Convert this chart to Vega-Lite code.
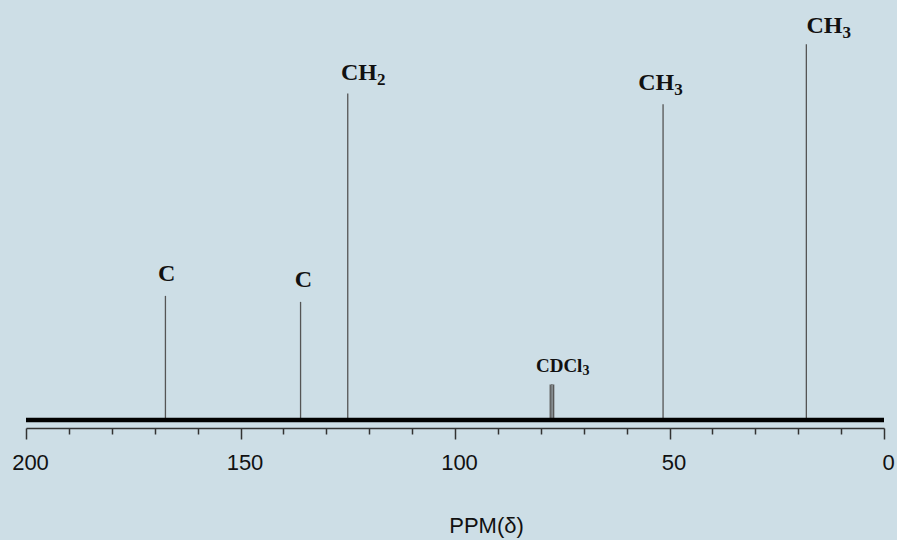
{
  "$schema": "https://vega.github.io/schema/vega-lite/v6.json",
  "width": 858,
  "height": 428,
  "autosize": {"type": "none"},
  "padding": {"left": 26, "top": 0, "right": 13, "bottom": 112},
  "background": "#cddee6",
  "config": {"view": {"stroke": null}},
  "datasets": {
    "peaks": [
      {"ppm": 167.5, "intensity": 33.1},
      {"ppm": 136.0, "intensity": 31.5},
      {"ppm": 125.0, "intensity": 87.1},
      {"ppm": 77.0, "intensity": 9.5},
      {"ppm": 77.4, "intensity": 9.6},
      {"ppm": 77.8, "intensity": 9.5},
      {"ppm": 51.5, "intensity": 84.2},
      {"ppm": 18.1, "intensity": 100.2}
    ],
    "baseline": [{"start": 200, "end": 0, "level": 0}],
    "labels": [
      {"split": 165.2, "base": 37.15, "main": "C", "sub": "", "kind": "peak"},
      {"split": 133.3, "base": 35.5, "main": "C", "sub": "", "kind": "peak"},
      {"split": 118.2, "base": 90.67, "main": "CH", "sub": "2", "kind": "peak"},
      {"split": 70.3, "base": 12.88, "main": "CDCl", "sub": "3", "kind": "solvent"},
      {"split": 48.9, "base": 88, "main": "CH", "sub": "3", "kind": "peak"},
      {"split": 9.7, "base": 103.1, "main": "CH", "sub": "3", "kind": "peak"}
    ]
  },
  "layer": [
    {
      "data": {"name": "peaks"},
      "mark": {"type": "rule", "color": "#555555", "strokeWidth": 1.3},
      "encoding": {
        "x": {
          "field": "ppm", "type": "quantitative",
          "scale": {"domain": [0, 200], "reverse": true, "nice": false},
          "axis": {
            "values": [0, 10, 20, 30, 40, 50, 60, 70, 80, 90, 100, 110, 120, 130, 140, 150, 160, 170, 180, 190, 200],
            "labelExpr": "datum.value % 50 === 0 ? datum.label : ''",
            "tickSize": {"condition": {"test": "datum.value % 50 === 0", "value": 11}, "value": 6},
            "tickColor": "#333333",
            "tickWidth": 1.5,
            "domainColor": "#333333",
            "domainWidth": 1.5,
            "grid": false,
            "labelFont": "Liberation Sans",
            "labelFontSize": 22,
            "labelColor": "#111111",
            "labelPadding": 13,
            "labelOffset": 4,
            "labelFlush": false,
            "labelOverlap": false,
            "title": "PPM(δ)",
            "titleFont": "Liberation Sans",
            "titleFontSize": 22,
            "titleFontWeight": "normal",
            "titleColor": "#111111",
            "titleX": 460,
            "titleY": 104,
            "titleBaseline": "alphabetic"
          }
        },
        "y": {"field": "intensity", "type": "quantitative", "scale": {"domain": [-2.1333, 112], "nice": false, "zero": false}, "axis": null},
        "y2": {"datum": 0}
      }
    },
    {
      "data": {"name": "baseline"},
      "mark": {"type": "rule", "color": "#000000", "strokeWidth": 4.5},
      "encoding": {
        "x": {"field": "start", "type": "quantitative"},
        "x2": {"field": "end"},
        "y": {"field": "level", "type": "quantitative"}
      }
    },
    {
      "data": {"name": "labels"},
      "transform": [{"filter": "datum.kind === 'peak'"}],
      "mark": {"type": "text", "align": "right", "baseline": "alphabetic", "font": "Liberation Serif", "fontWeight": "bold", "fontSize": 24, "color": "#111111"},
      "encoding": {
        "x": {"field": "split", "type": "quantitative"},
        "y": {"field": "base", "type": "quantitative"},
        "text": {"field": "main"}
      }
    },
    {
      "data": {"name": "labels"},
      "transform": [{"filter": "datum.kind === 'peak'"}],
      "mark": {"type": "text", "align": "left", "baseline": "alphabetic", "font": "Liberation Serif", "fontWeight": "bold", "fontSize": 17, "dy": 5, "color": "#111111"},
      "encoding": {
        "x": {"field": "split", "type": "quantitative"},
        "y": {"field": "base", "type": "quantitative"},
        "text": {"field": "sub"}
      }
    },
    {
      "data": {"name": "labels"},
      "transform": [{"filter": "datum.kind === 'solvent'"}],
      "mark": {"type": "text", "align": "right", "baseline": "alphabetic", "font": "Liberation Serif", "fontWeight": "bold", "fontSize": 19, "color": "#111111"},
      "encoding": {
        "x": {"field": "split", "type": "quantitative"},
        "y": {"field": "base", "type": "quantitative"},
        "text": {"field": "main"}
      }
    },
    {
      "data": {"name": "labels"},
      "transform": [{"filter": "datum.kind === 'solvent'"}],
      "mark": {"type": "text", "align": "left", "baseline": "alphabetic", "font": "Liberation Serif", "fontWeight": "bold", "fontSize": 14, "dy": 3.5, "color": "#111111"},
      "encoding": {
        "x": {"field": "split", "type": "quantitative"},
        "y": {"field": "base", "type": "quantitative"},
        "text": {"field": "sub"}
      }
    }
  ]
}
